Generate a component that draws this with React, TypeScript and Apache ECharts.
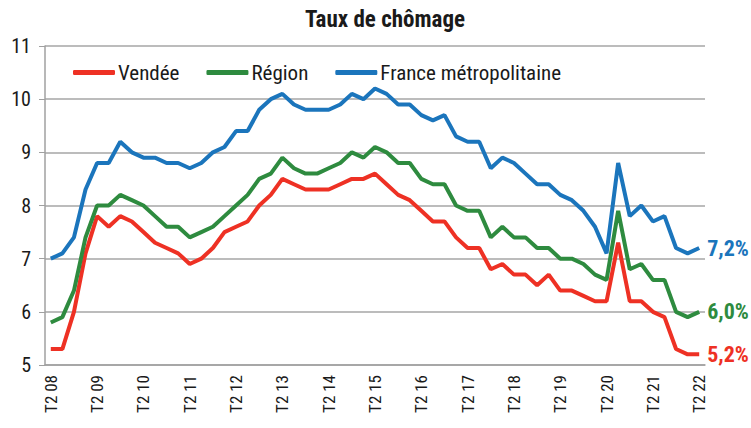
import React, { useEffect, useRef } from "react";
import * as echarts from "echarts";

const years = ["08","09","10","11","12","13","14","15","16","17","18","19","20","21","22"];
const categories: string[] = [];
(() => {
  // quarters from T2 08 to T2 22
  for (let y = 0; y < years.length; y++) {
    for (let q = 1; q <= 4; q++) {
      if (y === 0 && q < 2) continue;
      if (y === years.length - 1 && q > 2) continue;
      categories.push(`T${q} ${years[y]}`);
    }
  }
})();

const vendee = [5.3,5.3,6.0,7.1,7.8,7.6,7.8,7.7,7.5,7.3,7.2,7.1,6.9,7.0,7.2,7.5,7.6,7.7,8.0,8.2,8.5,8.4,8.3,8.3,8.3,8.4,8.5,8.5,8.6,8.4,8.2,8.1,7.9,7.7,7.7,7.4,7.2,7.2,6.8,6.9,6.7,6.7,6.5,6.7,6.4,6.4,6.3,6.2,6.2,7.3,6.2,6.2,6.0,5.9,5.3,5.2,5.2];
const region = [5.8,5.9,6.4,7.4,8.0,8.0,8.2,8.1,8.0,7.8,7.6,7.6,7.4,7.5,7.6,7.8,8.0,8.2,8.5,8.6,8.9,8.7,8.6,8.6,8.7,8.8,9.0,8.9,9.1,9.0,8.8,8.8,8.5,8.4,8.4,8.0,7.9,7.9,7.4,7.6,7.4,7.4,7.2,7.2,7.0,7.0,6.9,6.7,6.6,7.9,6.8,6.9,6.6,6.6,6.0,5.9,6.0];
const france = [7.0,7.1,7.4,8.3,8.8,8.8,9.2,9.0,8.9,8.9,8.8,8.8,8.7,8.8,9.0,9.1,9.4,9.4,9.8,10.0,10.1,9.9,9.8,9.8,9.8,9.9,10.1,10.0,10.2,10.1,9.9,9.9,9.7,9.6,9.7,9.3,9.2,9.2,8.7,8.9,8.8,8.6,8.4,8.4,8.2,8.1,7.9,7.6,7.1,8.8,7.8,8.0,7.7,7.8,7.2,7.1,7.2];

const seriesNames = ["Vendée", "Région", "France métropolitaine"];
const colors = ["#ee3124", "#2e8b3f", "#1b75bc"];
const FONT = "'Roboto Condensed', 'Liberation Sans Narrow', 'DejaVu Sans Condensed', Roboto, sans-serif";

export default function App() {
  const ref = useRef<HTMLDivElement>(null);
  useEffect(() => {
    document.body.style.margin = "0";
    if (!ref.current) return;
    const chart = echarts.init(ref.current, null, { renderer: "svg" });
    const data = [vendee, region, france];
    chart.setOption({
      animation: false,
      textStyle: { fontFamily: FONT },
      title: {
        text: "Taux de chômage",
        left: 380,
        textAlign: "center",
        top: 3,
        textStyle: { fontSize: 23, fontWeight: "bold", color: "#1a1a1a", fontFamily: FONT },
      },
      legend: {
        left: 68,
        top: 57,
        itemWidth: 42,
        itemHeight: 5,
        itemGap: 27,
        icon: "roundRect",
        data: seriesNames,
        textStyle: { fontSize: 21, color: "#1a1a1a", fontFamily: FONT, padding: [0, 0, 0, -2] },
      },
      grid: { left: 45, right: 46, top: 46, bottom: 63 },
      xAxis: {
        type: "category",
        data: categories,
        boundaryGap: true,
        axisLine: { lineStyle: { color: "#a0a0a0", width: 1.5 } },
        axisTick: { interval: 0, length: 6, lineStyle: { color: "#a0a0a0" } },
        axisLabel: {
          interval: 3,
          rotate: 90,
          fontSize: 17,
          color: "#1a1a1a",
          fontFamily: FONT,
          margin: 10,
          formatter: (v: string) => v,
        },
      },
      yAxis: {
        type: "value",
        min: 5,
        max: 11,
        interval: 1,
        axisLine: { show: true, lineStyle: { color: "#a0a0a0", width: 1.5 } },
        axisTick: { show: true, length: 6, lineStyle: { color: "#a0a0a0" } },
        splitLine: { lineStyle: { color: "#a6a6a6", width: 1.5 } },
        axisLabel: { fontSize: 20, color: "#1a1a1a", fontFamily: FONT, margin: 14 },
      },
      series: seriesNames.map((name, i) => ({
        name,
        type: "line",
        data: data[i],
        showSymbol: false,
        symbol: "none",
        lineStyle: { color: colors[i], width: 4 },
        itemStyle: { color: colors[i] },
        endLabel: {
          show: true,
          formatter: (p: any) => String(p.value).replace(".", ",") + (String(p.value).includes(".") ? "" : ",0") + "%",
          color: colors[i],
          fontSize: 22,
          fontWeight: "bold",
          fontFamily: FONT,
          distance: 8,
        },
      })),
    });
    return () => chart.dispose();
  }, []);
  return <div ref={ref} style={{ width: 751, height: 428 }} />;
}
